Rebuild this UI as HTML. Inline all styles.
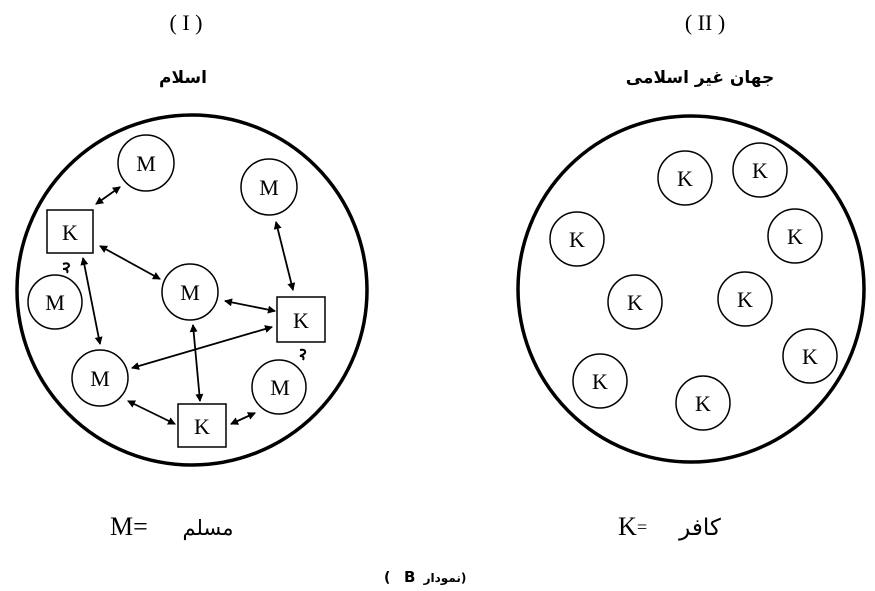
<!DOCTYPE html>
<html><head><meta charset="utf-8"><style>
html,body{margin:0;padding:0;background:#fff;}
svg{display:block;}
text{font-family:"Liberation Serif",serif;fill:#000;}
.ar{font-family:"DejaVu Sans",sans-serif;font-weight:bold;}
.arn{font-family:"DejaVu Sans",sans-serif;}
</style></head><body>
<svg width="875" height="591" viewBox="0 0 875 591" xmlns="http://www.w3.org/2000/svg">
<defs>
<marker id="a" markerWidth="8" markerHeight="8" refX="7" refY="4" orient="auto-start-reverse" markerUnits="userSpaceOnUse">
<path d="M0,0 L8,4 L0,8 Z" fill="#000"/></marker>
</defs>
<text x="186" y="30" font-size="22" text-anchor="middle">( I )</text>
<text x="705" y="30" font-size="22" text-anchor="middle">( II )</text>
<text x="183" y="83" font-size="17" text-anchor="middle" class="ar" direction="rtl">اسلام</text>
<text x="700" y="83" font-size="17" text-anchor="middle" class="ar" direction="rtl">جهان غير اسلامى</text>

<g fill="none" stroke="#000">
<circle cx="192" cy="290" r="175" stroke-width="3.5"/>
<circle cx="691" cy="289" r="173" stroke-width="3.5"/>
<g stroke-width="1.5">
<circle cx="146" cy="163" r="28"/>
<circle cx="269" cy="187" r="28"/>
<circle cx="55" cy="302" r="27"/>
<circle cx="190" cy="292" r="28"/>
<circle cx="100" cy="378" r="28"/>
<circle cx="279" cy="387" r="27"/>
<rect x="47" y="210" width="46" height="43"/>
<rect x="277" y="297" width="48" height="45"/>
<rect x="178" y="404" width="48" height="43"/>
<circle cx="685" cy="178" r="27"/>
<circle cx="760" cy="170" r="27"/>
<circle cx="577" cy="239" r="27"/>
<circle cx="795" cy="236" r="27"/>
<circle cx="635" cy="302" r="27"/>
<circle cx="745" cy="299" r="27"/>
<circle cx="810" cy="356" r="27"/>
<circle cx="600" cy="381" r="27"/>
<circle cx="703" cy="403" r="27"/>
</g>
<g stroke-width="1.8" marker-start="url(#a)" marker-end="url(#a)">
<line x1="96" y1="204" x2="120" y2="187"/>
<line x1="100" y1="246" x2="160" y2="279"/>
<line x1="83" y1="258" x2="100" y2="344"/>
<line x1="276" y1="222" x2="293" y2="290"/>
<line x1="225" y1="301" x2="275" y2="311"/>
<line x1="272" y1="327" x2="132" y2="368"/>
<line x1="193" y1="325" x2="200" y2="401"/>
<line x1="128" y1="401" x2="175" y2="424"/>
<line x1="231" y1="424" x2="255" y2="413"/>
</g>
<path d="M63,264 q6,-2 6,2 q-2,3 -6,3 q6,0 4,4" stroke-width="2"/>
<path d="M300,350 q6,-1 5,3 q-2,2 -5,3 q5,0 3,4" stroke-width="2"/>
</g>

<g font-size="22" text-anchor="middle">
<text x="146" y="171">M</text>
<text x="269" y="195">M</text>
<text x="55" y="310">M</text>
<text x="190" y="300">M</text>
<text x="100" y="386">M</text>
<text x="280" y="395">M</text>
<text x="70" y="240">K</text>
<text x="301" y="328">K</text>
<text x="202" y="434">K</text>
<text x="685" y="186">K</text>
<text x="760" y="178">K</text>
<text x="577" y="247">K</text>
<text x="795" y="244">K</text>
<text x="635" y="310">K</text>
<text x="745" y="307">K</text>
<text x="810" y="364">K</text>
<text x="600" y="389">K</text>
<text x="703" y="411">K</text>
</g>

<text x="110" y="535" font-size="26">M=</text>
<text x="208" y="535" font-size="21" class="arn" direction="rtl" text-anchor="middle">مسلم</text>
<text x="618" y="535" font-size="26">K</text>
<text x="637" y="533" font-size="18">=</text>
<text x="700" y="535" font-size="23" class="arn" direction="rtl" text-anchor="middle">كافر</text>
<text x="384" y="582" font-size="14" class="ar">(</text>
<text x="404" y="582" font-size="15" class="ar">B</text>
<text x="445" y="582" font-size="12" class="ar" direction="rtl" text-anchor="middle">(نمودار</text>
</svg>
</body></html>
